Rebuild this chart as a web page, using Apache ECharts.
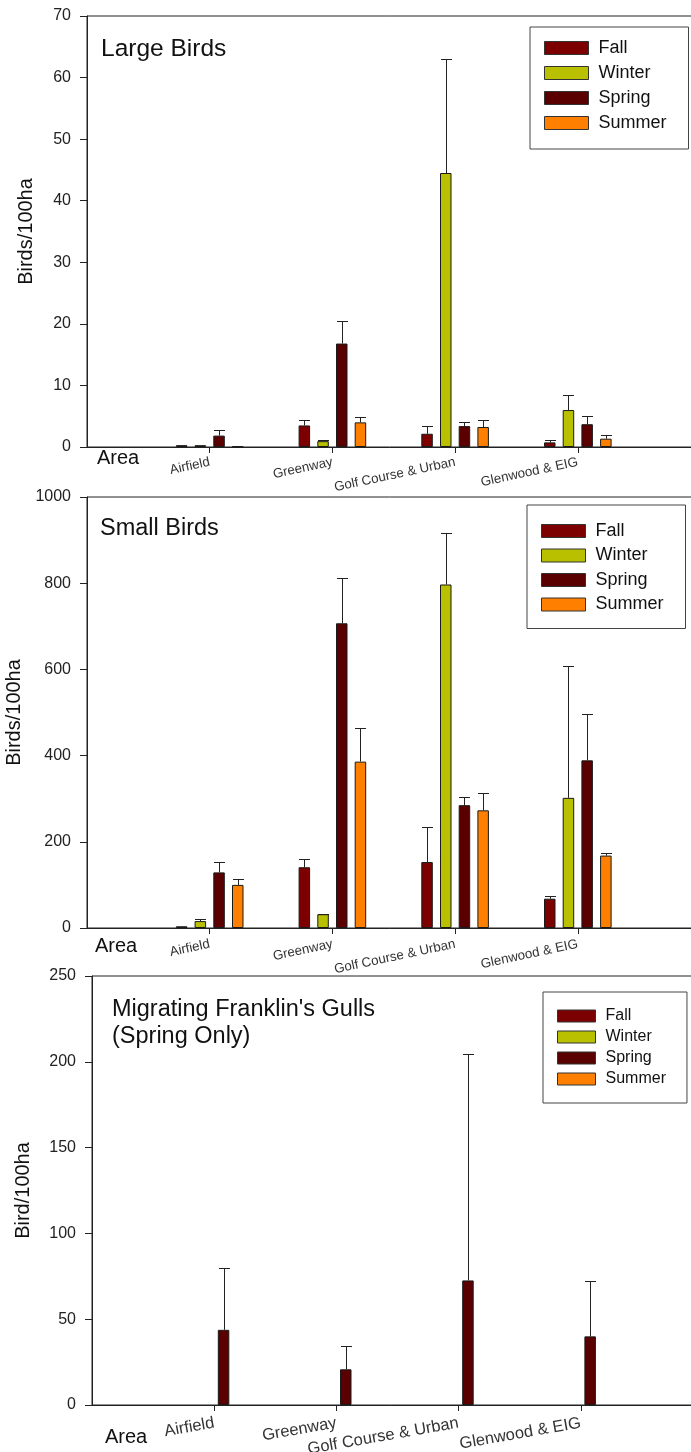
<!DOCTYPE html>
<html>
<head>
<meta charset="utf-8">
<script src="https://cdn.jsdelivr.net/npm/echarts@6/dist/echarts.min.js"></script>
<style>
html,body{margin:0;padding:0;background:#fff;}
#chart{width:691px;height:1452px;}
</style>
</head>
<body>
<div id="chart"></div>
<script>
// ---------- data ----------
const areas = ["Airfield", "Greenway", "Golf Course & Urban", "Glenwood & EIG"];
const seasons = ["Fall", "Winter", "Spring", "Summer"];

// Large birds (Birds/100ha), mean and upper error
const largeFall = [0.3, 3.5, 2.15, 0.75];
const largeFallErr = [0, 0.95, 1.25, 0.45];
const largeWinter = [0.3, 0.95, 44.5, 6.0];
const largeWinterErr = [0, 0.25, 18.5, 2.5];
const largeSpring = [1.85, 16.8, 3.4, 3.7];
const largeSpringErr = [0.85, 3.7, 0.7, 1.4];
const largeSummer = [0.1, 4.0, 3.25, 1.35];
const largeSummerErr = [0, 0.8, 1.2, 0.55];

// Small birds (Birds/100ha)
const smallFall = [4, 141, 153, 68];
const smallFallErr = [0, 20, 82, 7];
const smallWinter = [16, 32, 797, 302];
const smallWinterErr = [5, 1, 119, 307];
const smallSpring = [129, 707, 285, 389];
const smallSpringErr = [25, 106, 20, 108];
const smallSummer = [100, 386, 273, 168];
const smallSummerErr = [14, 77, 41, 7];

// Migrating Franklin's Gulls (Spring only)
const gullSpring = [43.8, 20.8, 72.6, 40];
const gullSpringErr = [36, 13.7, 132, 32];

const largeTicks = {min: 0, max: 70, interval: 10};
const smallTicks = {min: 0, max: 1000, interval: 200};
const gullTicks = {min: 0, max: 250, interval: 50};

// ---------- style ----------
const FONT = "'Liberation Sans', Arial, sans-serif";
const colors = {Fall: "#7d0000", Winter: "#b8c000", Spring: "#5a0000", Summer: "#ff8000"};
const BAR_W = 11.5, BAR_GAP = 7.2, CAP = 11;
const INK = "#222";

const panels = [
  {grid: {left: 87, top: 16, width: 613.5, height: 431}, yName: "Birds/100ha", nameGap: 51, ticks: largeTicks,
   series: {Fall: [largeFall, largeFallErr], Winter: [largeWinter, largeWinterErr], Spring: [largeSpring, largeSpringErr], Summer: [largeSummer, largeSummerErr]},
   labelSize: 13.3, labelRot: 12, labelMargin: 15},
  {grid: {left: 87, top: 497, width: 613.5, height: 431}, yName: "Birds/100ha", nameGap: 54, ticks: smallTicks,
   series: {Fall: [smallFall, smallFallErr], Winter: [smallWinter, smallWinterErr], Spring: [smallSpring, smallSpringErr], Summer: [smallSummer, smallSummerErr]},
   labelSize: 13.3, labelRot: 12, labelMargin: 16},
  {grid: {left: 92, top: 976, width: 611, height: 429}, yName: "Bird/100ha", nameGap: 59, ticks: gullTicks,
   series: {Fall: null, Winter: null, Spring: [gullSpring, gullSpringErr], Summer: null},
   labelSize: 16.5, labelRot: 10, labelMargin: 18}
];

function errRender(slot) {
  return function (params, api) {
    const x = api.value(0), m = api.value(1), e = api.value(2);
    if (!e) return null;
    const off = (slot - 1.5) * (BAR_W + BAR_GAP);
    const p0 = api.coord([x, m]);
    const p1 = api.coord([x, m + e]);
    const cx = Math.round(p0[0] + off) + 0.5;
    const yt = Math.round(p1[1]) + 0.5;
    return {
      type: "group",
      children: [
        {type: "line", shape: {x1: cx, y1: p0[1], x2: cx, y2: yt}, style: {stroke: INK, lineWidth: 1}},
        {type: "line", shape: {x1: cx - CAP / 2, y1: yt, x2: cx + CAP / 2, y2: yt}, style: {stroke: INK, lineWidth: 1}}
      ]
    };
  };
}

const grids = [], xAxes = [], yAxes = [], series = [];
panels.forEach((p, gi) => {
  grids.push(Object.assign({show: true, borderColor: INK, borderWidth: 1, backgroundColor: "transparent",
    containLabel: false, outerBoundsMode: "none"}, p.grid));
  xAxes.push({
    type: "value", gridIndex: gi, min: 0, max: 5,
    splitLine: {show: false},
    axisLine: {show: true, lineStyle: {color: INK, width: 1}},
    axisTick: {show: true, inside: false, length: 6, lineStyle: {color: INK}, customValues: [1, 2, 3, 4]},
    axisLabel: {show: true, customValues: [1, 2, 3, 4], formatter: v => areas[Math.round(v) - 1] || "",
      rotate: p.labelRot, margin: p.labelMargin, fontSize: p.labelSize, color: "#333", fontFamily: FONT,
      hideOverlap: false}
  });
  yAxes.push({
    type: "value", gridIndex: gi, min: p.ticks.min, max: p.ticks.max, interval: p.ticks.interval,
    splitLine: {show: false},
    axisLine: {show: true, lineStyle: {color: INK, width: 1}},
    axisTick: {show: true, inside: false, length: 7, lineStyle: {color: INK}},
    axisLabel: {fontSize: 16, color: "#222", margin: 16, fontFamily: FONT, formatter: v => String(v)},
    name: p.yName, nameLocation: "middle", nameRotate: 90, nameGap: p.nameGap,
    nameTextStyle: {fontSize: 20, color: "#111", fontFamily: FONT}
  });
  seasons.forEach((s, si) => {
    const d = p.series[s];
    series.push({
      type: "bar", name: s, xAxisIndex: gi, yAxisIndex: gi,
      barWidth: BAR_W, barGap: (BAR_GAP / BAR_W * 100) + "%",
      itemStyle: {color: colors[s], borderColor: "#1a1a1a", borderWidth: 1},
      emphasis: {disabled: true},
      data: d ? d[0].map((v, i) => [i + 1, v]) : []
    });
    if (d) {
      series.push({
        type: "custom", name: s + " error", xAxisIndex: gi, yAxisIndex: gi, z: 3,
        renderItem: errRender(si), silent: true,
        encode: {x: 0, y: 1},
        data: d[0].map((v, i) => [i + 1, v, d[1][i]])
      });
    }
  });
});

const legendBase = {
  orient: "vertical", data: seasons, icon: "rect",
  borderColor: "#444", borderWidth: 1, backgroundColor: "#fff",
  itemStyle: {borderColor: "#333", borderWidth: 1},
  selectedMode: false
};
const legends = [
  Object.assign({}, legendBase, {left: 530, top: 27, itemWidth: 44, itemHeight: 13, itemGap: 7,
    padding: [12, 22, 17, 14], textStyle: {fontSize: 18, color: "#111", fontFamily: FONT, padding: [0, 0, 0, 5]}}),
  Object.assign({}, legendBase, {left: 527, top: 505, itemWidth: 44, itemHeight: 13, itemGap: 6.5,
    padding: [17, 22, 15, 14], textStyle: {fontSize: 18, color: "#111", fontFamily: FONT, padding: [0, 0, 0, 5]}}),
  Object.assign({}, legendBase, {left: 543, top: 992, itemWidth: 38, itemHeight: 12, itemGap: 5,
    padding: [16, 21, 16, 14], textStyle: {fontSize: 16, color: "#111", fontFamily: FONT, padding: [0, 0, 0, 5]}})
];

const titleStyle = {fontSize: 23.5, fontWeight: "normal", color: "#111", fontFamily: FONT, lineHeight: 27};
const areaStyle = {fontSize: 20, fontWeight: "normal", color: "#111", fontFamily: FONT};
const titles = [
  {text: "Large Birds", left: 101, top: 36, padding: 0, textStyle: Object.assign({}, titleStyle, {fontSize: 24.5})},
  {text: "Small Birds", left: 100, top: 515, padding: 0, textStyle: titleStyle},
  {text: "Migrating Franklin's Gulls\n(Spring Only)", left: 112, top: 996, padding: 0, textStyle: titleStyle},
  {text: "Area", left: 97, top: 448, padding: 0, textStyle: areaStyle},
  {text: "Area", left: 95, top: 936, padding: 0, textStyle: areaStyle},
  {text: "Area", left: 105, top: 1427, padding: 0, textStyle: areaStyle}
];

const chart = echarts.init(document.getElementById("chart"), null, {renderer: "canvas"});
chart.setOption({
  animation: false,
  backgroundColor: "#fff",
  textStyle: {fontFamily: FONT},
  title: titles,
  legend: legends,
  grid: grids,
  xAxis: xAxes,
  yAxis: yAxes,
  series: series
});
</script>
</body>
</html>
